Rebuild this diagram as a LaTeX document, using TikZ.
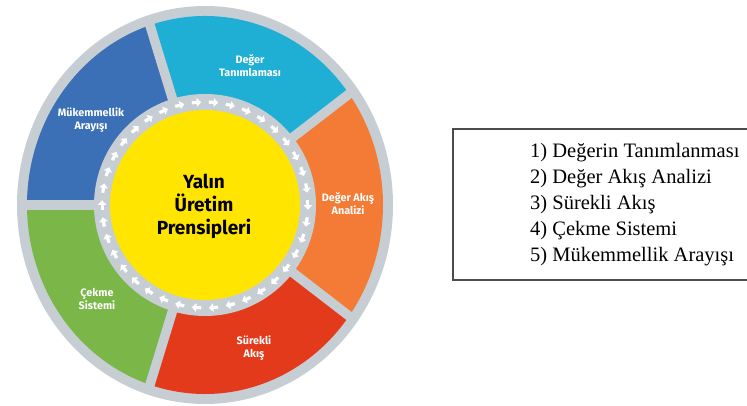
\documentclass[tikz,border=0pt]{standalone}
\usepackage{fontspec}
\setmainfont{Liberation Serif}
\newfontfamily\wheelfont{Fira Sans}
\usepackage{xcolor}
\usepackage{tikz}
\usetikzlibrary{arrows.meta, positioning}

\definecolor{ringgray}{RGB}{198,206,212}
\definecolor{tealseg}{RGB}{31,174,212}
\definecolor{orangeseg}{RGB}{244,123,54}
\definecolor{redseg}{RGB}{228,58,28}
\definecolor{greenseg}{RGB}{122,182,72}
\definecolor{blueseg}{RGB}{59,111,182}
\definecolor{hubyellow}{RGB}{255,229,0}

\begin{document}
\begin{tikzpicture}[x=1pt, y=1pt,
    seglabel/.style={font=\wheelfont\bfseries\fontsize{10.8}{12.8}\selectfont, text=white, align=center, inner sep=0pt},
    hublabel/.style={font=\wheelfont\bfseries\fontsize{19}{23}\selectfont, text=black, align=center, inner sep=0pt},
    gapline/.style={ringgray, line width=9.5pt},
    flowarrow/.style={white, line width=3.2pt, -{Triangle[length=4.5pt, width=8.5pt]}},
    listframe/.style={draw=black!70, line width=1.1pt},
    listtext/.style={font=\fontsize{20.5}{26}\selectfont, align=left, inner sep=0pt}]
  \useasboundingbox (0,0) rectangle (747,406);

  % wheel
  \begin{scope}[shift={(205,201)}]
    \coordinate (hub) at (0,0);
    \fill[ringgray] (hub) ellipse [x radius=188, y radius=199];
    \fill[tealseg] (hub) -- (36:178 and 189) arc[start angle=36, end angle=108, x radius=178, y radius=189] -- cycle;
    \fill[blueseg] (hub) -- (108:178 and 189) arc[start angle=108, end angle=180, x radius=178, y radius=189] -- cycle;
    \fill[greenseg] (hub) -- (180:178 and 189) arc[start angle=180, end angle=252, x radius=178, y radius=189] -- cycle;
    \fill[redseg] (hub) -- (252:178 and 189) arc[start angle=252, end angle=324, x radius=178, y radius=189] -- cycle;
    \fill[orangeseg] (hub) -- (324:178 and 189) arc[start angle=324, end angle=396, x radius=178, y radius=189] -- cycle;
    \foreach \a in {36,108,180,252,324}
      \draw[gapline] (hub) -- (\a:181 and 192);
    \fill[ringgray] (hub) circle (111);
    \fill[hubyellow] (hub) circle (95);
    % arrows round the hub
    \foreach \i in {0,...,37} {
      \pgfmathsetmacro\ang{\i*360/38}
      \draw[flowarrow] ({\ang+2.6}:103) -- ({\ang-2.6}:103);
    }
  \end{scope}

  \node[hublabel] (hubtext) at (204,200) {Yalın\\Üretim\\Prensipleri};
  \node[seglabel] (deger) at (250,340) {Değer\\Tanımlaması};
  \node[seglabel] (analiz) at (348,202) {Değer Akış\\Analizi};
  \node[seglabel] (surekli) at (254,58) {Sürekli\\Akış};
  \node[seglabel] (cekme) at (97,107) {Çekme\\Sistemi};
  \node[seglabel] (mukemmel) at (91,286) {Mükemmellik\\Arayışı};

  % list box
  \draw[listframe] (453,277) rectangle (752,126);
  \node[listtext, anchor=west] (list) at (530,201) {1) Değerin Tanımlanması\\2) Değer Akış Analizi\\3) Sürekli Akış\\4) Çekme Sistemi\\5) Mükemmellik Arayışı};
\end{tikzpicture}
\end{document}
